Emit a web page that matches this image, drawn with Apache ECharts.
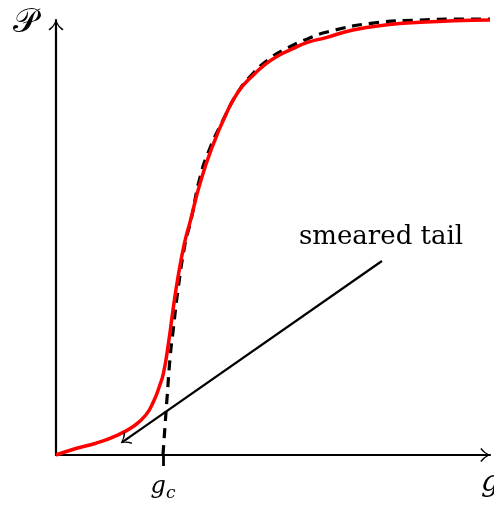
<!DOCTYPE html>
<html>
<head>
<meta charset="utf-8">
<script src="https://cdn.jsdelivr.net/npm/echarts@6/dist/echarts.min.js"></script>
<style>
  html, body { margin: 0; padding: 0; background: #ffffff; }
  #chart { width: 494px; height: 506px; }
</style>
</head>
<body>
<div id="chart"></div>
<script>
// Order parameter P versus coupling g (both normalised to 0..1).
// Finite system: smooth crossover with a smeared tail below g_c.
const gFinite = [0, 0.046, 0.092, 0.138, 0.177, 0.207, 0.226, 0.238, 0.2477, 0.2592, 0.2696, 0.2800,
                 0.2961, 0.309, 0.332, 0.359, 0.393, 0.420, 0.451, 0.482, 0.512, 0.543, 0.581,
                 0.620, 0.684, 0.763, 0.839, 0.915, 1.0];
const pFinite = [0, 0.015, 0.027, 0.044, 0.065, 0.092, 0.126, 0.157, 0.1885, 0.2575, 0.3333, 0.4023,
                 0.4874, 0.536, 0.625, 0.706, 0.786, 0.835, 0.870, 0.898, 0.918, 0.933, 0.949,
                 0.959, 0.977, 0.989, 0.995, 0.998, 1.0];

// Sharp transition: zero up to g_c, then a steep rise.
const gSharp = [0.2465, 0.251, 0.256, 0.263, 0.270, 0.281, 0.297, 0.311, 0.332, 0.355, 0.385,
                0.419, 0.451, 0.493, 0.532, 0.578, 0.627, 0.730, 0.839, 0.915, 1.0];
const pSharp = [0, 0.064, 0.133, 0.225, 0.287, 0.379, 0.483, 0.540, 0.639, 0.706, 0.770,
                0.834, 0.874, 0.912, 0.935, 0.956, 0.973, 0.993, 1.0, 1.002, 1.002];

const gCritical = 0.2465;

// Annotation: arrow pointing at the smeared tail, with its caption.
const tailArrowStart = [0.751, 0.446];
const tailArrowEnd = [0.1585, 0.0336];
const tailCaptionAt = [0.749, 0.501];
const tailCaption = 'smeared tail';

const xName = 'g';
const yName = '\u{1D4AB}';
const criticalLabel = '{g|g}{c|c}';

// Open arrow head pointing up, with a short shaft so it joins the line.
const arrowHead = 'path://M7,0 Q9.5,5.5 14,8.6 L12.9,9.7 Q9,6.6 7.8,3.6 L7.8,10 L6.2,10 L6.2,3.6 Q5,6.6 1.1,9.7 L0,8.6 Q4.5,5.5 7,0 Z';

const zip = (xs, ys) => xs.map((x, i) => [x, ys[i]]);
const serif = '"DejaVu Serif", "Liberation Serif", serif';

const chart = echarts.init(document.getElementById('chart'), null, { renderer: 'canvas' });

chart.setOption({
  animation: false,
  backgroundColor: '#ffffff',
  grid: { left: 56, right: 4, top: 20, bottom: 51, containLabel: false, outerBoundsMode: 'none' },
  xAxis: {
    type: 'value',
    min: 0,
    max: 1,
    name: xName,
    nameLocation: 'end',
    nameGap: -9,
    nameTextStyle: {
      fontFamily: serif, fontStyle: 'italic', fontSize: 29, color: '#000',
      align: 'left', verticalAlign: 'top', padding: [14, 0, 0, 0]
    },
    axisLine: {
      show: true,
      symbol: ['none', arrowHead],
      symbolSize: [17, 10],
      symbolOffset: [0, -5],
      lineStyle: { color: '#000', width: 2.2 }
    },
    axisTick: {
      show: true,
      customValues: [gCritical],
      length: 11,
      inside: false,
      lineStyle: { color: '#000', width: 2.8 }
    },
    axisLabel: {
      show: true,
      customValues: [gCritical],
      formatter: () => criticalLabel,
      margin: 20,
      rich: {
        g: { fontFamily: serif, fontStyle: 'italic', fontSize: 24, color: '#000' },
        c: { fontFamily: serif, fontStyle: 'italic', fontSize: 17, color: '#000', verticalAlign: 'bottom', padding: [0, 0, -3, 0] }
      }
    },
    splitLine: { show: false }
  },
  yAxis: {
    type: 'value',
    min: 0,
    max: 1,
    name: yName,
    nameLocation: 'end',
    nameGap: -3,
    nameTextStyle: {
      fontFamily: serif, fontSize: 34, color: '#000',
      align: 'right', verticalAlign: 'middle', padding: [0, 18, 0, 0]
    },
    axisLine: {
      show: true,
      symbol: ['none', arrowHead],
      symbolSize: [15, 11],
      symbolOffset: [0, -5.5],
      lineStyle: { color: '#000', width: 2.2 }
    },
    axisTick: { show: false },
    axisLabel: { show: false },
    splitLine: { show: false }
  },
  series: [
    {
      name: 'sharp',
      type: 'line',
      data: zip(gSharp, pSharp),
      smooth: 0.5,
      showSymbol: false,
      symbol: 'none',
      clip: false,
      z: 3,
      lineStyle: { color: '#000', width: 3.2, type: [10, 7] }
    },
    {
      name: 'finite',
      type: 'line',
      data: zip(gFinite, pFinite),
      smooth: 0.5,
      showSymbol: false,
      symbol: 'none',
      clip: false,
      z: 4,
      lineStyle: { color: '#ff0000', width: 3.5 }
    },
    {
      name: 'annotation',
      type: 'line',
      data: [],
      z: 5,
      markLine: {
        silent: true,
        animation: false,
        symbol: ['none', arrowHead],
        symbolSize: [14, 10],
        label: { show: false },
        lineStyle: { color: '#000', width: 2.2, type: 'solid' },
        emphasis: { disabled: true },
        data: [[
          { coord: tailArrowStart },
          { coord: tailArrowEnd }
        ]]
      },
      markPoint: {
        silent: true,
        animation: false,
        symbol: 'circle',
        symbolSize: 0,
        label: {
          show: true,
          position: 'inside',
          formatter: tailCaption,
          fontFamily: serif,
          fontSize: 26,
          color: '#000'
        },
        data: [{ coord: tailCaptionAt }]
      }
    }
  ]
});
</script>
</body>
</html>
